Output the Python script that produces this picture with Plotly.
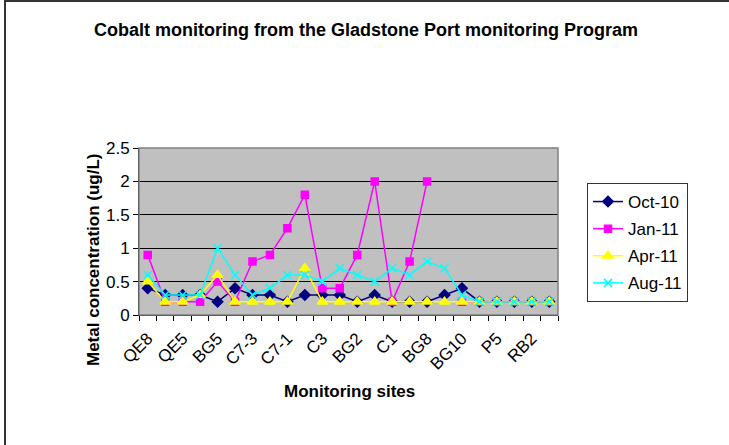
import plotly.graph_objects as go

# Monitoring sites: 24 stations, only every second one is labelled on the axis
site_labels = ["QE8", "QE5", "BG5", "C7-3", "C7-1", "C3",
               "BG2", "C1", "BG8", "BG10", "P5", "RB2"]
n_sites = 24

# Cobalt concentrations (ug/L) per sampling round
oct_10 = [0.4, 0.3, 0.3, 0.3, 0.2, 0.4, 0.3, 0.3, 0.2, 0.3, 0.3, 0.3,
          0.2, 0.3, 0.2, 0.2, 0.2, 0.3, 0.4, 0.2, 0.2, 0.2, 0.2, 0.2]
jan_11 = [0.9, 0.2, 0.2, 0.2, 0.5, 0.2, 0.8, 0.9, 1.3, 1.8, 0.4, 0.4,
          0.9, 2.0, 0.2, 0.8, 2.0, None, 0.2, 0.2, 0.2, 0.2, 0.2, 0.2]
apr_11 = [0.5, 0.2, 0.2, 0.3, 0.6, 0.2, 0.2, 0.2, 0.2, 0.7, 0.2, 0.2,
          0.2, 0.2, 0.2, 0.2, 0.2, 0.2, 0.2, 0.2, 0.2, 0.2, 0.2, 0.2]
aug_11 = [0.6, 0.3, 0.3, 0.3, 1.0, 0.6, 0.3, 0.4, 0.6, 0.6, 0.5, 0.7,
          0.6, 0.5, 0.7, 0.6, 0.8, 0.7, 0.3, 0.2, 0.2, 0.2, 0.2, 0.2]

y_ticks = [0, 0.5, 1, 1.5, 2, 2.5]
y_tick_text = ["0", "0.5", "1", "1.5", "2", "2.5"]

FONT = "Liberation Sans, Arial, sans-serif"
x = list(range(n_sites))

series = [
    ("Oct-10", oct_10, "#000080", "diamond", 8),
    ("Jan-11", jan_11, "#FF00FF", "square", 7),
    ("Apr-11", apr_11, "#FFFF00", "triangle-up", 9),
    ("Aug-11", aug_11, "#00FFFF", "x-thin-open", 8),
]

fig = go.Figure()
for name, vals, color, symbol, size in series:
    fig.add_trace(go.Scatter(
        x=x, y=vals, name=name, mode="lines+markers", legendgroup=name,
        connectgaps=False,
        line=dict(color=color, width=1.5),
        marker=dict(symbol=symbol, size=size, color=color,
                    line=dict(color=color, width=1.5)),
    ))

# pixel geometry of the plotting area
L, R, T, B = 139, 558, 148, 315
W, H = 729, 445
pw, ph = R - L, B - T

def px_x(p):
    return (p - L) / pw

def px_y(p):
    return (B - p) / ph

def label(text, xp, yp, size, angle=0):
    return dict(text=text, textangle=angle, xref="paper", yref="paper",
                x=px_x(xp), y=px_y(yp), xanchor="center", yanchor="middle",
                showarrow=False, font=dict(family=FONT, size=size))

fig.update_layout(
    width=W, height=H,
    margin=dict(l=L, r=W - R, t=T, b=H - B, pad=0),
    paper_bgcolor="white", plot_bgcolor="#C0C0C0",
    font=dict(family=FONT, size=17, color="black"),
    showlegend=True,
    legend=dict(
        x=px_x(587), y=px_y(183), xanchor="left", yanchor="top",
        bgcolor="white", bordercolor="#333333", borderwidth=1,
        font=dict(family=FONT, size=17), tracegroupgap=2,
        itemwidth=30,
    ),
    xaxis=dict(
        range=[-0.5, n_sites - 0.5], showgrid=False, zeroline=False,
        tickmode="array", tickvals=list(range(0, n_sites, 2)),
        ticktext=site_labels, tickangle=-45, ticks="",
        tickfont=dict(family=FONT, size=17), ticklabelstandoff=6,
        showline=True, linecolor="black", linewidth=1,
        minor=dict(ticks="outside", tick0=-0.5, dtick=1, ticklen=5,
                   tickcolor="black", tickwidth=1, showgrid=False),
    ),
    yaxis=dict(
        range=[0, 2.5], tickmode="array", tickvals=y_ticks,
        ticktext=y_tick_text, ticks="outside", ticklen=5,
        tickcolor="black", showgrid=True, gridcolor="black", gridwidth=1,
        zeroline=False, showline=True, linecolor="black", linewidth=1,
        tickfont=dict(family=FONT, size=17),
    ),
    shapes=[
        # plot area frame
        dict(type="rect", xref="paper", yref="paper", x0=0, x1=1, y0=0, y1=1,
             line=dict(color="#808080", width=1.5), layer="above"),
        # chart area frame
        dict(type="rect", xref="paper", yref="paper",
             x0=px_x(5), x1=px_x(740), y0=px_y(1), y1=px_y(460),
             line=dict(color="#333333", width=2), layer="above"),
    ],
    annotations=[
        label("<b>Cobalt monitoring from the Gladstone Port monitoring Program</b>",
              366, 30, 18),
        label("<b>Metal concentration (ug/L)</b>", 93, 260, 17, angle=-90),
        label("<b>Monitoring sites</b>", 349, 391, 17),
    ],
)

fig.write_html("out.html")
